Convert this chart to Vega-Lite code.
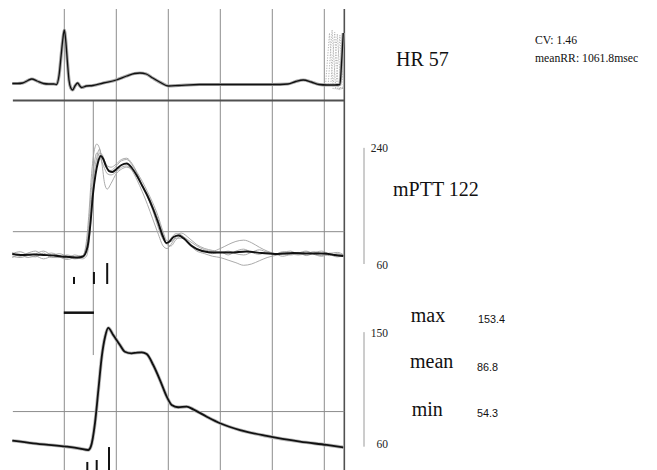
{
  "$schema": "https://vega.github.io/schema/vega-lite/v6.json",
  "padding": 0,
  "spacing": 0,
  "bounds": "flush",
  "background": "white",
  "config": {"view": {"stroke": null}},
  "datasets": {
    "vgrid": [{"t": 0}, {"t": 200}, {"t": 400}, {"t": 600}, {"t": 800}, {"t": 1000}],
    "border": [{"t": 1077}],
    "ecg": [
      {"t": -200, "v": -0.01}, {"t": -180, "v": -0.01}, {"t": -160, "v": 0}, {"t": -140, "v": 0.05}, {"t": -125, "v": 0.08}, {"t": -105, "v": 0.04},
      {"t": -80, "v": -0.01}, {"t": -60, "v": -0.02}, {"t": -40, "v": -0.02}, {"t": -30, "v": -0.03}, {"t": -20, "v": 0.16}, {"t": -12, "v": 0.56},
      {"t": -6, "v": 0.86}, {"t": 0, "v": 1.06}, {"t": 6, "v": 0.82}, {"t": 12, "v": 0.42}, {"t": 18, "v": 0.06}, {"t": 25, "v": -0.1},
      {"t": 32, "v": -0.14}, {"t": 42, "v": -0.05}, {"t": 51, "v": 0}, {"t": 60, "v": -0.06}, {"t": 67, "v": -0.09}, {"t": 85, "v": -0.06},
      {"t": 110, "v": -0.05}, {"t": 150, "v": 0.0}, {"t": 200, "v": 0.06}, {"t": 240, "v": 0.14}, {"t": 270, "v": 0.19}, {"t": 291, "v": 0.2},
      {"t": 315, "v": 0.18}, {"t": 340, "v": 0.1}, {"t": 370, "v": 0.01}, {"t": 400, "v": -0.06}, {"t": 440, "v": -0.05}, {"t": 520, "v": -0.03},
      {"t": 600, "v": -0.03}, {"t": 700, "v": -0.03}, {"t": 800, "v": -0.03}, {"t": 860, "v": -0.02}, {"t": 890, "v": 0.03}, {"t": 919, "v": 0.06},
      {"t": 950, "v": 0.02}, {"t": 980, "v": -0.03}, {"t": 1010, "v": -0.04}, {"t": 1040, "v": -0.04}, {"t": 1060, "v": -0.03}, {"t": 1067, "v": 0.45},
      {"t": 1073, "v": 1.0}
    ],
    "spikes": [
      {"s": "a", "t": 1005, "v": -0.03}, {"s": "a", "t": 1020, "v": 1.0}, {"s": "a", "t": 1034, "v": -0.12}, {"s": "a", "t": 1075, "v": -0.08},
      {"s": "b", "t": 1015, "v": -0.03}, {"s": "b", "t": 1030, "v": 1.06}, {"s": "b", "t": 1044, "v": -0.12}, {"s": "b", "t": 1075, "v": -0.1},
      {"s": "c", "t": 1025, "v": -0.03}, {"s": "c", "t": 1040, "v": 1.02}, {"s": "c", "t": 1054, "v": -0.14}, {"s": "c", "t": 1075, "v": -0.1},
      {"s": "d", "t": 1035, "v": -0.03}, {"s": "d", "t": 1050, "v": 0.98}, {"s": "d", "t": 1064, "v": -0.12}, {"s": "d", "t": 1075, "v": -0.1},
      {"s": "e", "t": 1045, "v": -0.03}, {"s": "e", "t": 1060, "v": 0.96}, {"s": "e", "t": 1074, "v": -0.14}
    ],
    "ptt": [
      {"t": -200, "v": 75.5}, {"t": -160, "v": 74}, {"t": -120, "v": 74.7}, {"t": -80, "v": 74}, {"t": -40, "v": 73.2}, {"t": -10, "v": 71.6},
      {"t": 20, "v": 70.9}, {"t": 50, "v": 70}, {"t": 72, "v": 71.6}, {"t": 90, "v": 87.9}, {"t": 100, "v": 120.5}, {"t": 110, "v": 167},
      {"t": 120, "v": 198}, {"t": 130, "v": 218}, {"t": 140, "v": 227.4}, {"t": 150, "v": 222.8}, {"t": 160, "v": 212}, {"t": 172, "v": 204},
      {"t": 185, "v": 202.6}, {"t": 200, "v": 207}, {"t": 220, "v": 213.5}, {"t": 240, "v": 215.8}, {"t": 260, "v": 208.8}, {"t": 280, "v": 196.4},
      {"t": 300, "v": 180.9}, {"t": 320, "v": 165.4}, {"t": 340, "v": 146.8}, {"t": 360, "v": 125.1}, {"t": 380, "v": 101.9}, {"t": 392, "v": 92.6},
      {"t": 405, "v": 94.9}, {"t": 420, "v": 101.9}, {"t": 440, "v": 104.2}, {"t": 460, "v": 99.5}, {"t": 490, "v": 87.9}, {"t": 530, "v": 80.2},
      {"t": 580, "v": 77.8}, {"t": 640, "v": 77.8}, {"t": 700, "v": 79.4}, {"t": 760, "v": 77}, {"t": 820, "v": 75.5}, {"t": 880, "v": 77},
      {"t": 940, "v": 76.3}, {"t": 1000, "v": 76.3}, {"t": 1040, "v": 74}, {"t": 1073, "v": 72.4}
    ],
    "pttg": [
      {"s": "g1", "t": -200, "v": 78}, {"s": "g1", "t": -170, "v": 72}, {"s": "g1", "t": -140, "v": 77}, {"s": "g1", "t": -110, "v": 80}, {"s": "g1", "t": -80, "v": 74},
      {"s": "g1", "t": -50, "v": 77}, {"s": "g1", "t": -20, "v": 73}, {"s": "g1", "t": 10, "v": 69}, {"s": "g1", "t": 40, "v": 74}, {"s": "g1", "t": 70, "v": 72},
      {"s": "g1", "t": 85, "v": 95}, {"s": "g1", "t": 95, "v": 140}, {"s": "g1", "t": 105, "v": 200}, {"s": "g1", "t": 115, "v": 235}, {"s": "g1", "t": 125, "v": 246},
      {"s": "g1", "t": 135, "v": 240}, {"s": "g1", "t": 145, "v": 225}, {"s": "g1", "t": 155, "v": 215}, {"s": "g1", "t": 165, "v": 208}, {"s": "g1", "t": 180, "v": 205},
      {"s": "g1", "t": 200, "v": 212}, {"s": "g1", "t": 220, "v": 220}, {"s": "g1", "t": 240, "v": 222}, {"s": "g1", "t": 260, "v": 214}, {"s": "g1", "t": 280, "v": 200},
      {"s": "g1", "t": 300, "v": 183}, {"s": "g1", "t": 320, "v": 165}, {"s": "g1", "t": 340, "v": 143}, {"s": "g1", "t": 360, "v": 118}, {"s": "g1", "t": 380, "v": 98},
      {"s": "g1", "t": 395, "v": 92}, {"s": "g1", "t": 410, "v": 100}, {"s": "g1", "t": 430, "v": 107}, {"s": "g1", "t": 450, "v": 105}, {"s": "g1", "t": 480, "v": 93},
      {"s": "g1", "t": 510, "v": 84}, {"s": "g1", "t": 540, "v": 80}, {"s": "g1", "t": 570, "v": 76}, {"s": "g1", "t": 600, "v": 79}, {"s": "g1", "t": 630, "v": 74},
      {"s": "g1", "t": 660, "v": 80}, {"s": "g1", "t": 690, "v": 83}, {"s": "g1", "t": 720, "v": 78}, {"s": "g1", "t": 750, "v": 75}, {"s": "g1", "t": 780, "v": 79},
      {"s": "g1", "t": 810, "v": 74}, {"s": "g1", "t": 840, "v": 78}, {"s": "g1", "t": 870, "v": 80}, {"s": "g1", "t": 900, "v": 75}, {"s": "g1", "t": 930, "v": 79},
      {"s": "g1", "t": 960, "v": 76}, {"s": "g1", "t": 990, "v": 73}, {"s": "g1", "t": 1020, "v": 77}, {"s": "g1", "t": 1050, "v": 74}, {"s": "g1", "t": 1075, "v": 75},
      {"s": "g2", "t": -200, "v": 70}, {"s": "g2", "t": -170, "v": 74}, {"s": "g2", "t": -140, "v": 70}, {"s": "g2", "t": -110, "v": 72}, {"s": "g2", "t": -80, "v": 68},
      {"s": "g2", "t": -50, "v": 72}, {"s": "g2", "t": -20, "v": 76}, {"s": "g2", "t": 10, "v": 72}, {"s": "g2", "t": 40, "v": 68}, {"s": "g2", "t": 70, "v": 70},
      {"s": "g2", "t": 85, "v": 80}, {"s": "g2", "t": 95, "v": 110}, {"s": "g2", "t": 105, "v": 160}, {"s": "g2", "t": 115, "v": 200}, {"s": "g2", "t": 125, "v": 225},
      {"s": "g2", "t": 135, "v": 238}, {"s": "g2", "t": 145, "v": 215}, {"s": "g2", "t": 155, "v": 185}, {"s": "g2", "t": 165, "v": 176}, {"s": "g2", "t": 180, "v": 185},
      {"s": "g2", "t": 200, "v": 200}, {"s": "g2", "t": 220, "v": 207}, {"s": "g2", "t": 240, "v": 210}, {"s": "g2", "t": 260, "v": 206}, {"s": "g2", "t": 280, "v": 195},
      {"s": "g2", "t": 300, "v": 182}, {"s": "g2", "t": 320, "v": 168}, {"s": "g2", "t": 340, "v": 150}, {"s": "g2", "t": 360, "v": 130}, {"s": "g2", "t": 380, "v": 105},
      {"s": "g2", "t": 395, "v": 90}, {"s": "g2", "t": 410, "v": 88}, {"s": "g2", "t": 430, "v": 98}, {"s": "g2", "t": 450, "v": 103}, {"s": "g2", "t": 480, "v": 96},
      {"s": "g2", "t": 510, "v": 88}, {"s": "g2", "t": 540, "v": 82}, {"s": "g2", "t": 570, "v": 80}, {"s": "g2", "t": 600, "v": 84}, {"s": "g2", "t": 630, "v": 90},
      {"s": "g2", "t": 660, "v": 95}, {"s": "g2", "t": 690, "v": 97}, {"s": "g2", "t": 720, "v": 93}, {"s": "g2", "t": 750, "v": 86}, {"s": "g2", "t": 780, "v": 80},
      {"s": "g2", "t": 810, "v": 76}, {"s": "g2", "t": 840, "v": 72}, {"s": "g2", "t": 870, "v": 75}, {"s": "g2", "t": 900, "v": 78}, {"s": "g2", "t": 930, "v": 73},
      {"s": "g2", "t": 960, "v": 77}, {"s": "g2", "t": 990, "v": 80}, {"s": "g2", "t": 1020, "v": 75}, {"s": "g2", "t": 1050, "v": 71}, {"s": "g2", "t": 1075, "v": 73},
      {"s": "g3", "t": -200, "v": 76}, {"s": "g3", "t": -170, "v": 79}, {"s": "g3", "t": -140, "v": 74}, {"s": "g3", "t": -110, "v": 71}, {"s": "g3", "t": -80, "v": 77},
      {"s": "g3", "t": -50, "v": 70}, {"s": "g3", "t": -20, "v": 70}, {"s": "g3", "t": 10, "v": 74}, {"s": "g3", "t": 40, "v": 71}, {"s": "g3", "t": 70, "v": 68},
      {"s": "g3", "t": 85, "v": 72}, {"s": "g3", "t": 95, "v": 92}, {"s": "g3", "t": 105, "v": 140}, {"s": "g3", "t": 115, "v": 185}, {"s": "g3", "t": 125, "v": 215},
      {"s": "g3", "t": 135, "v": 232}, {"s": "g3", "t": 145, "v": 230}, {"s": "g3", "t": 155, "v": 220}, {"s": "g3", "t": 165, "v": 212}, {"s": "g3", "t": 180, "v": 210},
      {"s": "g3", "t": 200, "v": 215}, {"s": "g3", "t": 220, "v": 222}, {"s": "g3", "t": 240, "v": 224}, {"s": "g3", "t": 260, "v": 216}, {"s": "g3", "t": 280, "v": 202},
      {"s": "g3", "t": 300, "v": 188}, {"s": "g3", "t": 320, "v": 172}, {"s": "g3", "t": 340, "v": 155}, {"s": "g3", "t": 360, "v": 135}, {"s": "g3", "t": 380, "v": 110},
      {"s": "g3", "t": 395, "v": 96}, {"s": "g3", "t": 410, "v": 95}, {"s": "g3", "t": 430, "v": 100}, {"s": "g3", "t": 450, "v": 100}, {"s": "g3", "t": 480, "v": 90},
      {"s": "g3", "t": 510, "v": 80}, {"s": "g3", "t": 540, "v": 76}, {"s": "g3", "t": 570, "v": 72}, {"s": "g3", "t": 600, "v": 70}, {"s": "g3", "t": 630, "v": 66},
      {"s": "g3", "t": 660, "v": 62}, {"s": "g3", "t": 690, "v": 58}, {"s": "g3", "t": 720, "v": 60}, {"s": "g3", "t": 750, "v": 65}, {"s": "g3", "t": 780, "v": 70},
      {"s": "g3", "t": 810, "v": 73}, {"s": "g3", "t": 840, "v": 76}, {"s": "g3", "t": 870, "v": 74}, {"s": "g3", "t": 900, "v": 77}, {"s": "g3", "t": 930, "v": 80},
      {"s": "g3", "t": 960, "v": 75}, {"s": "g3", "t": 990, "v": 72}, {"s": "g3", "t": 1020, "v": 76}, {"s": "g3", "t": 1050, "v": 78}, {"s": "g3", "t": 1075, "v": 74},
      {"s": "g4", "t": -200, "v": 72}, {"s": "g4", "t": -170, "v": 70}, {"s": "g4", "t": -140, "v": 73}, {"s": "g4", "t": -110, "v": 76}, {"s": "g4", "t": -80, "v": 80},
      {"s": "g4", "t": -50, "v": 74}, {"s": "g4", "t": -20, "v": 71}, {"s": "g4", "t": 10, "v": 67}, {"s": "g4", "t": 40, "v": 70}, {"s": "g4", "t": 70, "v": 73},
      {"s": "g4", "t": 85, "v": 88}, {"s": "g4", "t": 95, "v": 125}, {"s": "g4", "t": 105, "v": 180}, {"s": "g4", "t": 115, "v": 215}, {"s": "g4", "t": 125, "v": 232},
      {"s": "g4", "t": 135, "v": 228}, {"s": "g4", "t": 145, "v": 218}, {"s": "g4", "t": 155, "v": 208}, {"s": "g4", "t": 165, "v": 200}, {"s": "g4", "t": 180, "v": 198},
      {"s": "g4", "t": 200, "v": 203}, {"s": "g4", "t": 220, "v": 210}, {"s": "g4", "t": 240, "v": 212}, {"s": "g4", "t": 260, "v": 205}, {"s": "g4", "t": 280, "v": 190},
      {"s": "g4", "t": 300, "v": 172}, {"s": "g4", "t": 320, "v": 152}, {"s": "g4", "t": 340, "v": 130}, {"s": "g4", "t": 360, "v": 108}, {"s": "g4", "t": 380, "v": 88},
      {"s": "g4", "t": 395, "v": 84}, {"s": "g4", "t": 410, "v": 90}, {"s": "g4", "t": 430, "v": 103}, {"s": "g4", "t": 450, "v": 108}, {"s": "g4", "t": 480, "v": 100},
      {"s": "g4", "t": 510, "v": 90}, {"s": "g4", "t": 540, "v": 84}, {"s": "g4", "t": 570, "v": 81}, {"s": "g4", "t": 600, "v": 78}, {"s": "g4", "t": 630, "v": 80},
      {"s": "g4", "t": 660, "v": 76}, {"s": "g4", "t": 690, "v": 74}, {"s": "g4", "t": 720, "v": 78}, {"s": "g4", "t": 750, "v": 82}, {"s": "g4", "t": 780, "v": 78},
      {"s": "g4", "t": 810, "v": 75}, {"s": "g4", "t": 840, "v": 79}, {"s": "g4", "t": 870, "v": 76}, {"s": "g4", "t": 900, "v": 74}, {"s": "g4", "t": 930, "v": 76},
      {"s": "g4", "t": 960, "v": 79}, {"s": "g4", "t": 990, "v": 76}, {"s": "g4", "t": 1020, "v": 73}, {"s": "g4", "t": 1050, "v": 76}, {"s": "g4", "t": 1075, "v": 72}
    ],
    "bp": [
      {"t": -200, "v": 61.9}, {"t": -119, "v": 59.7}, {"t": 9, "v": 57}, {"t": 60, "v": 55.5}, {"t": 92, "v": 54.3}, {"t": 102, "v": 57},
      {"t": 118, "v": 76.2}, {"t": 131, "v": 103}, {"t": 144, "v": 130}, {"t": 157, "v": 146.3}, {"t": 169, "v": 153.4}, {"t": 188, "v": 147.7},
      {"t": 214, "v": 139.6}, {"t": 233, "v": 134.1}, {"t": 259, "v": 132.8}, {"t": 280, "v": 133.4}, {"t": 298, "v": 133.6}, {"t": 317, "v": 132.2},
      {"t": 342, "v": 123.3}, {"t": 368, "v": 111.1}, {"t": 394, "v": 97.6}, {"t": 413, "v": 90.8}, {"t": 438, "v": 89}, {"t": 471, "v": 89.5},
      {"t": 496, "v": 87.3}, {"t": 548, "v": 81.3}, {"t": 599, "v": 76}, {"t": 676, "v": 70.5}, {"t": 778, "v": 65.7}, {"t": 907, "v": 61.1},
      {"t": 1009, "v": 58.4}, {"t": 1073, "v": 56.5}
    ],
    "ticksMid": [{"t": 37.3, "v1": 39.9, "v2": 29}, {"t": 114, "v1": 47.6, "v2": 29}, {"t": 165, "v1": 61.5, "v2": 29}],
    "ticksBot": [{"t": 88.5, "v1": 44.6, "v2": 38.06}, {"t": 124.6, "v1": 46.2, "v2": 38.06}, {"t": 172, "v1": 56.7, "v2": 38.06}]
  },
  "vconcat": [
    {
      "width": 657,
      "height": 100,
      "layer": [
        {"data": {"name": "vgrid"}, "mark": {"type": "rule", "color": "#8c8c8c", "strokeWidth": 1},
         "encoding": {"x": {"field": "t", "type": "quantitative", "scale": {"domain": [-247.3, 2279.6], "nice": false, "zero": false}, "axis": null},
                      "y": {"datum": 1.48, "type": "quantitative", "scale": {"domain": [-0.34, 1.66], "nice": false, "zero": false}, "axis": null}, "y2": {"datum": -0.34}}},
        {"data": {"name": "border"}, "mark": {"type": "rule", "color": "#505050", "strokeWidth": 1.6},
         "encoding": {"x": {"field": "t", "type": "quantitative", "scale": {"domain": [-247.3, 2279.6], "nice": false, "zero": false}, "axis": null},
                      "y": {"datum": 1.48, "type": "quantitative", "scale": {"domain": [-0.34, 1.66], "nice": false, "zero": false}, "axis": null}, "y2": {"datum": -0.34}}},
        {"data": {"name": "ecg"}, "mark": {"type": "line", "color": "#a5a5a5", "strokeWidth": 3.2, "interpolate": "monotone"},
         "encoding": {"x": {"field": "t", "type": "quantitative", "scale": {"domain": [-247.3, 2279.6], "nice": false, "zero": false}, "axis": null},
                      "y": {"field": "v", "type": "quantitative", "scale": {"domain": [-0.34, 1.66], "nice": false, "zero": false}, "axis": null}}},
        {"data": {"name": "spikes"}, "mark": {"type": "line", "color": "#b4b4b4", "strokeWidth": 1, "strokeDash": [1.2, 1.4]},
         "encoding": {"x": {"field": "t", "type": "quantitative", "scale": {"domain": [-247.3, 2279.6], "nice": false, "zero": false}, "axis": null},
                      "y": {"field": "v", "type": "quantitative", "scale": {"domain": [-0.34, 1.66], "nice": false, "zero": false}, "axis": null},
                      "detail": {"field": "s", "type": "nominal"}}},
        {"data": {"name": "ecg"}, "mark": {"type": "line", "color": "#111111", "strokeWidth": 1.3, "interpolate": "monotone"},
         "encoding": {"x": {"field": "t", "type": "quantitative", "scale": {"domain": [-247.3, 2279.6], "nice": false, "zero": false}, "axis": null},
                      "y": {"field": "v", "type": "quantitative", "scale": {"domain": [-0.34, 1.66], "nice": false, "zero": false}, "axis": null}}},
        {"data": {"values": [{"t": 1275.8, "v": 0.34, "label": "HR 57"}]},
         "mark": {"type": "text", "font": "Liberation Serif", "fontSize": 20, "align": "left", "baseline": "alphabetic", "color": "#111111"},
         "encoding": {"x": {"field": "t", "type": "quantitative", "scale": {"domain": [-247.3, 2279.6], "nice": false, "zero": false}, "axis": null},
                      "y": {"field": "v", "type": "quantitative", "scale": {"domain": [-0.34, 1.66], "nice": false, "zero": false}, "axis": null},
                      "text": {"field": "label"}}},
        {"data": {"values": [{"t": 1810.4, "v": 0.774, "label": "CV: 1.46"}, {"t": 1810.4, "v": 0.414, "label": "meanRR: 1061.8msec"}]},
         "mark": {"type": "text", "font": "Liberation Serif", "fontSize": 11.7, "align": "left", "baseline": "alphabetic", "color": "#111111"},
         "encoding": {"x": {"field": "t", "type": "quantitative", "scale": {"domain": [-247.3, 2279.6], "nice": false, "zero": false}, "axis": null},
                      "y": {"field": "v", "type": "quantitative", "scale": {"domain": [-0.34, 1.66], "nice": false, "zero": false}, "axis": null},
                      "text": {"field": "label"}}}
      ]
    },
    {
      "width": 657,
      "height": 190,
      "layer": [
        {"data": {"name": "vgrid"}, "mark": {"type": "rule", "color": "#8c8c8c", "strokeWidth": 1},
         "encoding": {"x": {"field": "t", "type": "quantitative", "scale": {"domain": [-247.3, 2279.6], "nice": false, "zero": false}, "axis": null}}},
        {"data": {"values": [{"t": 111.5}]}, "mark": {"type": "rule", "color": "#8c8c8c", "strokeWidth": 1},
         "encoding": {"x": {"field": "t", "type": "quantitative", "scale": {"domain": [-247.3, 2279.6], "nice": false, "zero": false}, "axis": null}}},
        {"data": {"name": "border"}, "mark": {"type": "rule", "color": "#505050", "strokeWidth": 1.6},
         "encoding": {"x": {"field": "t", "type": "quantitative", "scale": {"domain": [-247.3, 2279.6], "nice": false, "zero": false}, "axis": null}}},
        {"data": {"values": [{"v": 313.6}]}, "mark": {"type": "rule", "color": "#505050", "strokeWidth": 2},
         "encoding": {"x": {"datum": -197.8, "type": "quantitative", "scale": {"domain": [-247.3, 2279.6], "nice": false, "zero": false}, "axis": null}, "x2": {"datum": 1077},
                      "y": {"field": "v", "type": "quantitative", "scale": {"domain": [19.7, 314.2], "nice": false, "zero": false}, "axis": null}}},
        {"data": {"values": [{"v": 110.1}]}, "mark": {"type": "rule", "color": "#8c8c8c", "strokeWidth": 1},
         "encoding": {"x": {"datum": -197.8, "type": "quantitative", "scale": {"domain": [-247.3, 2279.6], "nice": false, "zero": false}, "axis": null}, "x2": {"datum": 1077},
                      "y": {"field": "v", "type": "quantitative", "scale": {"domain": [19.7, 314.2], "nice": false, "zero": false}, "axis": null}}},
        {"data": {"name": "pttg"}, "mark": {"type": "line", "color": "#a0a0a0", "strokeWidth": 0.9, "interpolate": "monotone"},
         "encoding": {"x": {"field": "t", "type": "quantitative", "scale": {"domain": [-247.3, 2279.6], "nice": false, "zero": false}, "axis": null},
                      "y": {"field": "v", "type": "quantitative", "scale": {"domain": [19.7, 314.2], "nice": false, "zero": false}, "axis": null},
                      "detail": {"field": "s", "type": "nominal"}}},
        {"data": {"name": "ptt"}, "mark": {"type": "line", "color": "#111111", "strokeWidth": 1.9, "interpolate": "monotone"},
         "encoding": {"x": {"field": "t", "type": "quantitative", "scale": {"domain": [-247.3, 2279.6], "nice": false, "zero": false}, "axis": null},
                      "y": {"field": "v", "type": "quantitative", "scale": {"domain": [19.7, 314.2], "nice": false, "zero": false}, "axis": null}}},
        {"data": {"name": "ticksMid"}, "mark": {"type": "rule", "color": "#111111", "strokeWidth": 2},
         "encoding": {"x": {"field": "t", "type": "quantitative", "scale": {"domain": [-247.3, 2279.6], "nice": false, "zero": false}, "axis": null},
                      "y": {"field": "v1", "type": "quantitative", "scale": {"domain": [19.7, 314.2], "nice": false, "zero": false}, "axis": null}, "y2": {"field": "v2"}}},
        {"data": {"values": [{"t": 1152.7}]}, "mark": {"type": "rule", "color": "#9a9a9a", "strokeWidth": 1},
         "encoding": {"x": {"field": "t", "type": "quantitative", "scale": {"domain": [-247.3, 2279.6], "nice": false, "zero": false}, "axis": null},
                      "y": {"datum": 240, "type": "quantitative", "scale": {"domain": [19.7, 314.2], "nice": false, "zero": false}, "axis": null}, "y2": {"datum": 60}}},
        {"data": {"values": [{"t": 1245, "v": 234.1, "label": "240"}, {"t": 1245, "v": 52.7, "label": "60"}]},
         "mark": {"type": "text", "font": "Liberation Serif", "fontSize": 11.5, "align": "right", "baseline": "alphabetic", "color": "#222222"},
         "encoding": {"x": {"field": "t", "type": "quantitative", "scale": {"domain": [-247.3, 2279.6], "nice": false, "zero": false}, "axis": null},
                      "y": {"field": "v", "type": "quantitative", "scale": {"domain": [19.7, 314.2], "nice": false, "zero": false}, "axis": null},
                      "text": {"field": "label"}}},
        {"data": {"values": [{"t": 1264.2, "v": 165.4, "label": "mPTT 122"}]},
         "mark": {"type": "text", "font": "Liberation Serif", "fontSize": 20, "align": "left", "baseline": "alphabetic", "color": "#111111"},
         "encoding": {"x": {"field": "t", "type": "quantitative", "scale": {"domain": [-247.3, 2279.6], "nice": false, "zero": false}, "axis": null},
                      "y": {"field": "v", "type": "quantitative", "scale": {"domain": [19.7, 314.2], "nice": false, "zero": false}, "axis": null},
                      "text": {"field": "label"}}}
      ]
    },
    {
      "width": 657,
      "height": 180,
      "layer": [
        {"data": {"name": "vgrid"}, "mark": {"type": "rule", "color": "#8c8c8c", "strokeWidth": 1},
         "encoding": {"x": {"field": "t", "type": "quantitative", "scale": {"domain": [-247.3, 2279.6], "nice": false, "zero": false}, "axis": null}}},
        {"data": {"name": "border"}, "mark": {"type": "rule", "color": "#505050", "strokeWidth": 1.6},
         "encoding": {"x": {"field": "t", "type": "quantitative", "scale": {"domain": [-247.3, 2279.6], "nice": false, "zero": false}, "axis": null}}},
        {"data": {"values": [{"t": 111.5}]}, "mark": {"type": "rule", "color": "#8c8c8c", "strokeWidth": 1},
         "encoding": {"x": {"field": "t", "type": "quantitative", "scale": {"domain": [-247.3, 2279.6], "nice": false, "zero": false}, "axis": null},
                      "y": {"datum": 184.22, "type": "quantitative", "scale": {"domain": [38.06, 184.22], "nice": false, "zero": false}, "axis": null}, "y2": {"datum": 131.4}}},
        {"data": {"values": [{"v": 85.5}]}, "mark": {"type": "rule", "color": "#8c8c8c", "strokeWidth": 1},
         "encoding": {"x": {"datum": -197.8, "type": "quantitative", "scale": {"domain": [-247.3, 2279.6], "nice": false, "zero": false}, "axis": null}, "x2": {"datum": 1077},
                      "y": {"field": "v", "type": "quantitative", "scale": {"domain": [38.06, 184.22], "nice": false, "zero": false}, "axis": null}}},
        {"data": {"values": [{"v": 165.8}]}, "mark": {"type": "rule", "color": "#111111", "strokeWidth": 2.5},
         "encoding": {"x": {"datum": -2, "type": "quantitative", "scale": {"domain": [-247.3, 2279.6], "nice": false, "zero": false}, "axis": null}, "x2": {"datum": 114},
                      "y": {"field": "v", "type": "quantitative", "scale": {"domain": [38.06, 184.22], "nice": false, "zero": false}, "axis": null}}},
        {"data": {"name": "bp"}, "mark": {"type": "line", "color": "#b8b8b8", "strokeWidth": 3.4, "interpolate": "monotone"},
         "encoding": {"x": {"field": "t", "type": "quantitative", "scale": {"domain": [-247.3, 2279.6], "nice": false, "zero": false}, "axis": null},
                      "y": {"field": "v", "type": "quantitative", "scale": {"domain": [38.06, 184.22], "nice": false, "zero": false}, "axis": null}}},
        {"data": {"name": "bp"}, "mark": {"type": "line", "color": "#111111", "strokeWidth": 1.8, "interpolate": "monotone"},
         "encoding": {"x": {"field": "t", "type": "quantitative", "scale": {"domain": [-247.3, 2279.6], "nice": false, "zero": false}, "axis": null},
                      "y": {"field": "v", "type": "quantitative", "scale": {"domain": [38.06, 184.22], "nice": false, "zero": false}, "axis": null}}},
        {"data": {"name": "ticksBot"}, "mark": {"type": "rule", "color": "#111111", "strokeWidth": 2},
         "encoding": {"x": {"field": "t", "type": "quantitative", "scale": {"domain": [-247.3, 2279.6], "nice": false, "zero": false}, "axis": null},
                      "y": {"field": "v1", "type": "quantitative", "scale": {"domain": [38.06, 184.22], "nice": false, "zero": false}, "axis": null}, "y2": {"field": "v2"}}},
        {"data": {"values": [{"t": 1152.7}]}, "mark": {"type": "rule", "color": "#9a9a9a", "strokeWidth": 1},
         "encoding": {"x": {"field": "t", "type": "quantitative", "scale": {"domain": [-247.3, 2279.6], "nice": false, "zero": false}, "axis": null},
                      "y": {"datum": 150, "type": "quantitative", "scale": {"domain": [38.06, 184.22], "nice": false, "zero": false}, "axis": null}, "y2": {"datum": 57}}},
        {"data": {"values": [{"t": 1245, "v": 145.8, "label": "150"}, {"t": 1245, "v": 55.7, "label": "60"}]},
         "mark": {"type": "text", "font": "Liberation Serif", "fontSize": 11.5, "align": "right", "baseline": "alphabetic", "color": "#222222"},
         "encoding": {"x": {"field": "t", "type": "quantitative", "scale": {"domain": [-247.3, 2279.6], "nice": false, "zero": false}, "axis": null},
                      "y": {"field": "v", "type": "quantitative", "scale": {"domain": [38.06, 184.22], "nice": false, "zero": false}, "axis": null},
                      "text": {"field": "label"}}},
        {"data": {"values": [{"t": 1332.3, "v": 158.0, "label": "max"}, {"t": 1329.6, "v": 120.6, "label": "mean"}, {"t": 1336.2, "v": 81.9, "label": "min"}]},
         "mark": {"type": "text", "font": "Liberation Serif", "fontSize": 20, "align": "left", "baseline": "alphabetic", "color": "#111111"},
         "encoding": {"x": {"field": "t", "type": "quantitative", "scale": {"domain": [-247.3, 2279.6], "nice": false, "zero": false}, "axis": null},
                      "y": {"field": "v", "type": "quantitative", "scale": {"domain": [38.06, 184.22], "nice": false, "zero": false}, "axis": null},
                      "text": {"field": "label"}}},
        {"data": {"values": [{"t": 1591.2, "v": 157.2, "label": "153.4"}, {"t": 1587.3, "v": 118.7, "label": "86.8"}, {"t": 1587.3, "v": 80.8, "label": "54.3"}]},
         "mark": {"type": "text", "font": "Liberation Sans", "fontSize": 10.8, "align": "left", "baseline": "alphabetic", "color": "#111111"},
         "encoding": {"x": {"field": "t", "type": "quantitative", "scale": {"domain": [-247.3, 2279.6], "nice": false, "zero": false}, "axis": null},
                      "y": {"field": "v", "type": "quantitative", "scale": {"domain": [38.06, 184.22], "nice": false, "zero": false}, "axis": null},
                      "text": {"field": "label"}}}
      ]
    }
  ]
}
